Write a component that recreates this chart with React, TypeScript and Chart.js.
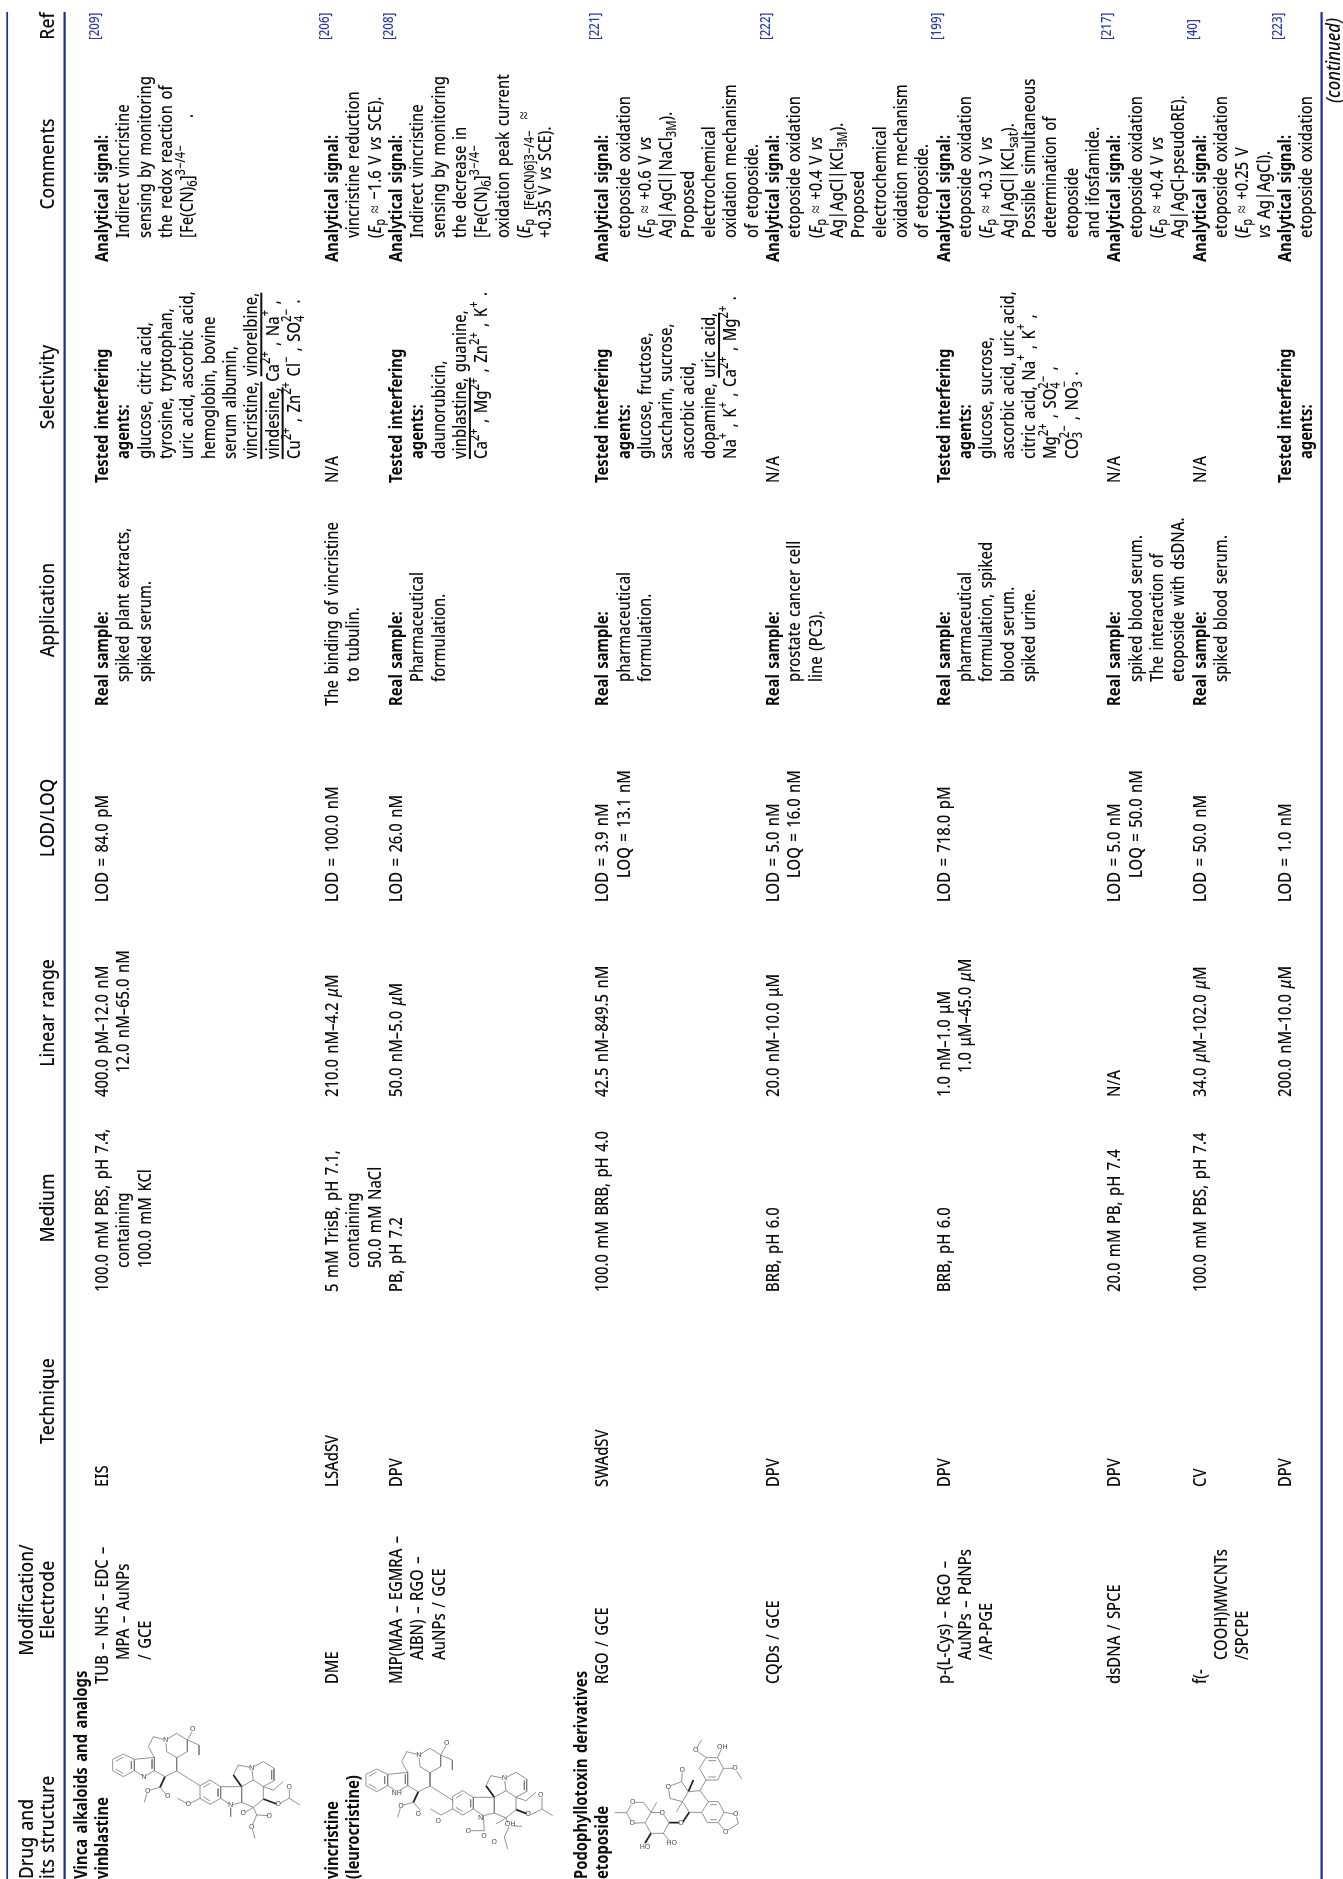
import React, { useEffect, useRef } from "react";
import { Chart, registerables } from "chart.js";

Chart.register(...registerables);

// ---------- table content ----------
const headers = [
  { lines: ["Modification/", "Electrode"], center: 1600 },
  { lines: ["Technique"], center: 1401 },
  { lines: ["Medium"], center: 1208 },
  { lines: ["Linear range"], center: 1013 },
  { lines: ["LOD/LOQ"], center: 818 },
  { lines: ["Application"], center: 610 },
  { lines: ["Selectivity"], center: 387 },
  { lines: ["Comments"], center: 164 },
  { lines: ["Ref"], center: 26 },
];
const drugHeader = ["Drug and", "its structure"];
const groupTitles = [
  { text: "Vinca alkaloids and analogs", line: -1 },
  { text: "Podophyllotoxin derivatives", line: 22.46 },
];
const rowLine = [0, 10.78, 13.78, 23.46, 31.46, 39.46, 47.46, 51.46, 55.46];

const drugCol = [["vinblastine"], ["vincristine", "(leurocristine)"], [], ["etoposide"], [], [], [], [], []];
const modificationCol = [
  ["TUB – NHS – EDC –", "MPA – AuNPs", "/ GCE"],
  ["DME"],
  ["MIP(MAA – EGMRA –", "AIBN) – RGO –", "AuNPs / GCE"],
  ["RGO / GCE"],
  ["CQDs / GCE"],
  ["p-(L-Cys) – RGO –", "AuNPs – PdNPs", "/AP-PGE"],
  ["dsDNA / SPCE"],
  ["f(-", "COOH)MWCNTs", "/SPCPE"],
  [],
];
const techniqueCol = [["EIS"], ["LSAdSV"], ["DPV"], ["SWAdSV"], ["DPV"], ["DPV"], ["DPV"], ["CV"], ["DPV"]];
const mediumCol = [
  ["100.0 mM PBS, pH 7.4,", "containing", "100.0 mM KCl"],
  ["5 mM TrisB, pH 7.1,", "containing", "50.0 mM NaCl"],
  ["PB, pH 7.2"],
  ["100.0 mM BRB, pH 4.0"],
  ["BRB, pH 6.0"],
  ["BRB, pH 6.0"],
  ["20.0 mM PB, pH 7.4"],
  ["100.0 mM PBS, pH 7.4"],
  [],
];
const linearCol = [
  ["400.0 pM–12.0 nM", "12.0 nM–65.0 nM"],
  ["210.0 nM–4.2 ~{μ}M"],
  ["50.0 nM–5.0 ~{μ}M"],
  ["42.5 nM–849.5 nM"],
  ["20.0 nM–10.0 μM"],
  ["1.0 nM–1.0 μM", "1.0 μM–45.0 ~{μ}M"],
  ["N/A"],
  ["34.0 ~{μ}M–102.0 ~{μ}M"],
  ["200.0 nM–10.0 ~{μ}M"],
];
const lodCol = [
  ["LOD = 84.0 pM"],
  ["LOD = 100.0 nM"],
  ["LOD = 26.0 nM"],
  ["LOD = 3.9 nM", "LOQ = 13.1 nM"],
  ["LOD = 5.0 nM", "LOQ = 16.0 nM"],
  ["LOD = 718.0 pM"],
  ["LOD = 5.0 nM", "LOQ = 50.0 nM"],
  ["LOD = 50.0 nM"],
  ["LOD = 1.0 nM"],
];
const applicationCol = [
  ["!Real sample:", "spiked plant extracts,", "spiked serum."],
  ["The binding of vincristine", "to tubulin."],
  ["!Real sample:", "Pharmaceutical", "formulation."],
  ["!Real sample:", "pharmaceutical", "formulation."],
  ["!Real sample:", "prostate cancer cell", "line (PC3)."],
  ["!Real sample:", "pharmaceutical", "formulation, spiked", "blood serum.", "spiked urine."],
  ["!Real sample:", "spiked blood serum.", "The interaction of", "etoposide with dsDNA."],
  ["!Real sample:", "spiked blood serum."],
  [],
];
const selectivityCol = [
  [
    "!Tested interfering",
    "!agents:",
    "glucose, citric acid,",
    "tyrosine, tryptophan,",
    "uric acid, ascorbic acid,",
    "hemoglobin, bovine",
    "serum albumin,",
    "#{vincristine,} #{vinorelbine,}",
    "#{vindesine,} Ca^{2+} , Na^{+} ,",
    "Cu^{2+} , Zn^{2+} Cl^{−} , SO_{4}^{2−} .",
  ],
  ["N/A"],
  ["!Tested interfering", "!agents:", "daunorubicin,", "#{vinblastine,} guanine,", "Ca^{2+} , Mg^{2+} , Zn^{2+} , K^{+} ."],
  [
    "!Tested interfering",
    "!agents:",
    "glucose, fructose,",
    "saccharin, sucrose,",
    "ascorbic acid,",
    "dopamine, #{uric acid,}",
    "Na^{+} , K^{+} , Ca^{2+} , Mg^{2+} .",
  ],
  ["N/A"],
  [
    "!Tested interfering",
    "!agents:",
    "glucose, sucrose,",
    "ascorbic acid, uric acid,",
    "citric acid, Na^{+} , K^{+} ,",
    "Mg^{2+} , SO_{4}^{2−} ,",
    "CO_{3}^{2−} , NO_{3}^{−} .",
  ],
  ["N/A"],
  ["N/A"],
  ["!Tested interfering", "!agents:"],
];
const commentsCol = [
  ["!Analytical signal:", "Indirect vincristine", "sensing by monitoring", "the redox reaction of", "[Fe(CN)_{6}]^{3−/4−}     ."],
  ["!Analytical signal:", "vincristine reduction", "(~{E}_{p} ≈ −1.6 V ~{vs} SCE)."],
  [
    "!Analytical signal:",
    "Indirect vincristine",
    "sensing by monitoring",
    "the decrease in",
    "[Fe(CN)_{6}]^{3−/4−}",
    "oxidation peak current",
    "(~{E}_{p  [Fe(CN)6]3−/4−}  ≈",
    "+0.35 V ~{vs} SCE).",
  ],
  [
    "!Analytical signal:",
    "etoposide oxidation",
    "(~{E}_{p} ≈ +0.6 V ~{vs}",
    "Ag|AgCl|NaCl_{3M}).",
    "Proposed",
    "electrochemical",
    "oxidation mechanism",
    "of etoposide.",
  ],
  [
    "!Analytical signal:",
    "etoposide oxidation",
    "(~{E}_{p} ≈ +0.4 V ~{vs}",
    "Ag|AgCl|KCl_{3M}).",
    "Proposed",
    "electrochemical",
    "oxidation mechanism",
    "of etoposide.",
  ],
  [
    "!Analytical signal:",
    "etoposide oxidation",
    "(~{E}_{p} ≈ +0.3 V ~{vs}",
    "Ag|AgCl|KCl_{sat}).",
    "Possible simultaneous",
    "determination of",
    "etoposide",
    "and ifosfamide.",
  ],
  ["!Analytical signal:", "etoposide oxidation", "(~{E}_{p} ≈ +0.4 V ~{vs}", "Ag|AgCl-pseudoRE)."],
  ["!Analytical signal:", "etoposide oxidation", "(~{E}_{p} ≈ +0.25 V", "~{vs} Ag|AgCl)."],
  ["!Analytical signal:", "etoposide oxidation"],
];
const refCol = ["[209]", "[206]", "[208]", "[221]", "[222]", "[199]", "[217]", "[40]", "[223]"];
const continuedLabel = "(continued)";

// ---------- structure sketches (bond paths in a 3x sketch space) ----------
type P = number[];
const indoleThin: P[] = [
  [338, 1078, 370, 1062, 403, 1078, 403, 1112, 370, 1130, 338, 1112, 338, 1078],
  [347, 1084, 370, 1071],
  [394, 1084, 394, 1107],
  [347, 1107, 370, 1121],
  [403, 1078, 463, 1072, 463, 1112, 432, 1130, 403, 1112],
  [456, 1078, 456, 1106],
  [463, 1072, 445, 1040, 460, 1010, 497, 1020],
  [497, 1020, 530, 1000, 562, 1020, 562, 1055, 530, 1073, 500, 1055, 497, 1020],
  [562, 1020, 578, 992],
  [562, 1020, 597, 1035, 597, 1065],
  [530, 1073, 530, 1113, 495, 1130, 463, 1112],
  [480, 1162, 443, 1172, 433, 1207],
  [480, 1162, 503, 1188],
  [530, 1113, 600, 1157],
];
const indoleBold: P[] = [[495, 1130, 480, 1162]];
const vindolineThin: P[] = [
  [600, 1157, 630, 1140, 662, 1160, 662, 1195, 630, 1213, 600, 1195, 600, 1157],
  [610, 1162, 630, 1150],
  [654, 1166, 654, 1190],
  [610, 1190, 630, 1203],
  [600, 1195, 565, 1213, 533, 1195],
  [662, 1160, 725, 1160, 725, 1207, 692, 1215, 662, 1195],
  [700, 1125, 715, 1095, 755, 1103],
  [755, 1103, 760, 1140, 725, 1160],
  [755, 1103, 790, 1085, 822, 1105, 822, 1142, 790, 1160, 760, 1140],
  [815, 1110, 815, 1138],
  [725, 1207, 760, 1222, 790, 1197, 790, 1160],
  [790, 1160, 820, 1170, 850, 1145],
  [835, 1212, 868, 1195, 868, 1160],
  [868, 1195, 900, 1215],
  [760, 1222, 730, 1240],
  [760, 1222, 770, 1245, 808, 1247],
  [770, 1245, 755, 1280, 765, 1315],
];
const vindolineBold: P[] = [
  [725, 1160, 700, 1125],
  [790, 1197, 830, 1212],
];
const nMethyl: P[] = [[692, 1215, 692, 1250]];
const nFormyl: P[] = [[692, 1215, 695, 1260, 655, 1260]];
const etoposideThin: P[] = [
  [748, 1105, 768, 1073, 803, 1073, 820, 1105, 803, 1140, 768, 1140, 748, 1105],
  [775, 1082, 798, 1082],
  [775, 1131, 798, 1131],
  [768, 1073, 737, 1050, 755, 1020],
  [803, 1073, 817, 1040],
  [820, 1105, 855, 1105, 875, 1137],
  [768, 1140, 750, 1172],
  [715, 1175, 750, 1172, 775, 1205, 755, 1237, 718, 1237, 697, 1205, 715, 1175],
  [715, 1175, 695, 1145, 655, 1160, 660, 1195, 697, 1205],
  [695, 1145, 697, 1108],
  [697, 1205, 680, 1235],
  [775, 1205, 805, 1205, 822, 1237, 805, 1268, 772, 1268, 755, 1237],
  [781, 1214, 800, 1214],
  [781, 1259, 800, 1259],
  [822, 1237, 857, 1243, 865, 1270, 827, 1295, 805, 1268],
  [657, 1268, 637, 1238, 603, 1237, 585, 1268, 603, 1300, 640, 1300, 657, 1268],
  [640, 1300, 660, 1325],
  [603, 1237, 580, 1207, 548, 1207, 530, 1238, 547, 1270, 585, 1268],
  [530, 1238, 495, 1238],
  [603, 1237, 620, 1207],
];
const etoposideBold: P[] = [
  [715, 1175, 730, 1140],
  [718, 1237, 697, 1268, 657, 1268],
  [603, 1300, 585, 1330],
];
// molecule placements: [sketch x shift, sketch y shift]
const vinblastineIndole = [0, 0];
const vinblastineVindoline = [0, 0];
const vincristineIndole = [760, 45];
const vincristineVindoline = [758, 32];
const etoposideShift = [1350, 0];
const atomLabels: [string, number, number][] = [
  ["N", 432, 1132], ["N", 497, 1020], ["O", 578, 988], ["O", 443, 1172], ["O", 503, 1188],
  ["N", 755, 1103], ["N", 692, 1215], ["O", 565, 1213], ["O", 835, 1212], ["O", 868, 1160],
  ["O", 730, 1240], ["O", 808, 1247], ["O", 755, 1280],
  ["NH", 1190, 1178], ["N", 1257, 1065], ["O", 1340, 1028], ["O", 1203, 1217], ["O", 1255, 1243],
  ["N", 1513, 1135], ["N", 1442, 1255], ["O", 1585, 1243], ["O", 1622, 1185], ["OH", 1530, 1272],
  ["O", 1405, 1292], ["O", 1452, 1307], ["O", 1483, 1325], ["O", 1315, 1262],
  ["OH", 2167, 1040], ["O", 2087, 1050], ["O", 2205, 1105], ["O", 2047, 1110], ["O", 2005, 1160],
  ["O", 2207, 1243], ["O", 2177, 1295], ["O", 2043, 1268], ["O", 1987, 1238], ["O", 1898, 1207],
  ["O", 1897, 1270], ["HO", 1935, 1340], ["HO", 2015, 1330],
];

// ---------- table geometry on the chart's own scales ----------
const colStart = { drug: 1879, modification: 1684, technique: 1487, medium: 1292, linear: 1097, lod: 902, application: 706, selectivity: 483, comments: 262, ref: 40 };
const bodyColumns: [string[][], number][] = [
  [drugCol, colStart.drug],
  [modificationCol, colStart.modification],
  [techniqueCol, colStart.technique],
  [mediumCol, colStart.medium],
  [linearCol, colStart.linear],
  [lodCol, colStart.lod],
  [applicationCol, colStart.application],
  [selectivityCol, colStart.selectivity],
  [commentsCol, colStart.comments],
];

const FONT = '"Noto Sans"';
const FONT_SIZE = 18.5;
const STRETCH = 0.8;
const WORD_GAP = "2px";
const HEAD = { size: 20, stretch: 0.875 };

type Seg = { kind: string; text: string };
function parse(s: string): Seg[] {
  const out: Seg[] = [];
  const re = /([\^_~#])\{([^}]*)\}/g;
  let last = 0;
  let m: RegExpExecArray | null;
  while ((m = re.exec(s))) {
    if (m.index > last) out.push({ kind: "", text: s.slice(last, m.index) });
    out.push({ kind: m[1], text: m[2] });
    last = m.index + m[0].length;
  }
  if (last < s.length) out.push({ kind: "", text: s.slice(last) });
  return out;
}

function segFont(kind: string, size: number, bold: boolean, italic: boolean) {
  const sz = kind === "^" || kind === "_" ? size * 0.76 : size;
  return `${italic || kind === "~" ? "italic " : ""}${bold ? "bold" : "500"} ${sz}px ${FONT}`;
}

function drawRich(ctx: any, raw: string, x: number, y: number, o: any = {}) {
  const bold = raw.startsWith("!") || o.bold;
  const text = raw.startsWith("!") ? raw.slice(1) : raw;
  const size = o.size ?? FONT_SIZE;
  const segs = parse(text);
  ctx.save();
  ctx.translate(x, y);
  ctx.rotate(-Math.PI / 2);
  ctx.scale(o.stretch ?? STRETCH, 1);
  ctx.fillStyle = o.color ?? "#0c0c0c";
  ctx.textBaseline = "alphabetic";
  ctx.textAlign = "left";
  ctx.wordSpacing = WORD_GAP;
  const measure = () => {
    let w = 0;
    let prev = 0;
    let prevKind = "";
    segs.forEach((s) => {
      ctx.font = segFont(s.kind, size, bold, o.italic);
      const m = ctx.measureText(s.text).width;
      if (s.kind === "^" && prevKind === "_") w -= prev;
      w += m;
      prev = m;
      prevKind = s.kind;
    });
    return w;
  };
  let cx = o.center ? -measure() / 2 : 0;
  let prevW = 0;
  let prevKind = "";
  segs.forEach((s) => {
    ctx.font = segFont(s.kind, size, bold, o.italic);
    const w = ctx.measureText(s.text).width;
    if (s.kind === "^" && prevKind === "_") cx -= prevW;
    const dy = s.kind === "^" ? -size * 0.46 : s.kind === "_" ? size * 0.22 : 0;
    ctx.fillText(s.text, cx, dy);
    if (s.kind === "#") ctx.fillRect(cx, 3, w, 2);
    cx += w;
    prevW = w;
    prevKind = s.kind;
  });
  ctx.restore();
}

const tablePlugin = {
  id: "tableText",
  afterDatasetsDraw(chart: any) {
    const { ctx, scales } = chart;
    const X = (line: number) => scales.x.getPixelForValue(line);
    const Y = (v: number) => scales.y.getPixelForValue(v);
    const PX = (v: number) => scales.px.getPixelForValue(v);

    // header band
    drugHeader.forEach((t, i) => drawRich(ctx, t, X(-3.53 + i), Y(colStart.drug), HEAD));
    headers.forEach((h) => {
      const first = h.lines.length === 2 ? -3.53 : -2.53;
      h.lines.forEach((t, i) => drawRich(ctx, t, X(first + i), Y(h.center), { ...HEAD, center: true }));
    });
    groupTitles.forEach((g) => drawRich(ctx, g.text, X(g.line), Y(colStart.drug), { bold: true }));

    // body
    bodyColumns.forEach(([col, start]) => {
      col.forEach((lines, r) => {
        lines.forEach((t, i) => {
          const indent = col === drugCol || i === 0 ? 0 : 24;
          drawRich(ctx, t, X(rowLine[r] + i), Y(start - indent), { bold: col === drugCol });
        });
      });
    });
    refCol.forEach((t, r) => drawRich(ctx, t, X(rowLine[r] - 0.42), Y(colStart.ref), { size: 14, stretch: 0.82, color: "#2b3c9e" }));
    drawRich(ctx, continuedLabel, PX(1340), Y(103), { italic: true, size: 20, stretch: 0.83 });

    // atom letters of the structures
    ctx.save();
    ctx.font = `7px ${FONT}`;
    ctx.textAlign = "center";
    ctx.textBaseline = "middle";
    atomLabels.forEach(([t, zx, zy]) => {
      const lx = PX(zx / 3);
      const ly = Y(1400 + zy / 3);
      ctx.fillStyle = "#fff";
      ctx.fillRect(lx - 2, ly - 2.5, 4, 5);
      ctx.fillStyle = "#444";
      ctx.fillText(t, lx, ly);
    });
    ctx.restore();
  },
};

function sketchDatasets(paths: P[], shift: number[], bold: boolean) {
  return paths.map((p) => {
    const data: { x: number; y: number }[] = [];
    for (let i = 0; i < p.length; i += 2) {
      data.push({ x: (p[i] + shift[0]) / 3, y: 1400 + (p[i + 1] + shift[1]) / 3 });
    }
    return {
      data,
      xAxisID: "px",
      yAxisID: "y",
      showLine: true,
      pointRadius: 0,
      borderColor: bold ? "#222" : "#777",
      borderWidth: bold ? 1.8 : 0.8,
      fill: false,
      tension: 0,
    };
  });
}

const ruleColumns = [
  { x: 7.2, width: 1.7 },
  { x: 64.6, width: 2.2 },
  { x: 1321.6, width: 2.2 },
];

export default function App() {
  const ref = useRef<HTMLCanvasElement | null>(null);
  useEffect(() => {
    const rules = ruleColumns.map((r) => ({
      data: [{ x: r.x, y: 12 }, { x: r.x, y: 1879 }],
      xAxisID: "px",
      yAxisID: "y",
      showLine: true,
      pointRadius: 0,
      borderColor: "#1f2b92",
      borderWidth: r.width,
    }));
    const chart = new Chart(ref.current as HTMLCanvasElement, {
      type: "scatter",
      data: {
        datasets: [
          ...rules,
          ...sketchDatasets(indoleThin, vinblastineIndole, false),
          ...sketchDatasets(indoleBold, vinblastineIndole, true),
          ...sketchDatasets(vindolineThin, vinblastineVindoline, false),
          ...sketchDatasets(vindolineBold, vinblastineVindoline, true),
          ...sketchDatasets(nMethyl, vinblastineVindoline, false),
          ...sketchDatasets(indoleThin, vincristineIndole, false),
          ...sketchDatasets(indoleBold, vincristineIndole, true),
          ...sketchDatasets(vindolineThin, vincristineVindoline, false),
          ...sketchDatasets(vindolineBold, vincristineVindoline, true),
          ...sketchDatasets(nFormyl, vincristineVindoline, false),
          ...sketchDatasets(etoposideThin, etoposideShift, false),
          ...sketchDatasets(etoposideBold, etoposideShift, true),
        ] as any,
      },
      options: {
        responsive: false,
        animation: false,
        devicePixelRatio: 1,
        layout: { padding: 0 },
        plugins: { legend: { display: false }, tooltip: { enabled: false }, title: { display: false } },
        scales: {
          x: { type: "linear", display: false, min: -108 / 21.33, max: (1343 - 108) / 21.33 },
          px: { type: "linear", display: false, min: 0, max: 1343, position: "top" },
          y: { type: "linear", display: false, min: 0, max: 1879, reverse: true },
        },
      } as any,
      plugins: [tablePlugin],
    });
    return () => chart.destroy();
  }, []);
  return (
    <div style={{ position: "absolute", left: 0, top: 0, width: 1343, height: 1879, background: "#fff" }}>
      <canvas ref={ref} width={1343} height={1879} style={{ display: "block" }} />
    </div>
  );
}
